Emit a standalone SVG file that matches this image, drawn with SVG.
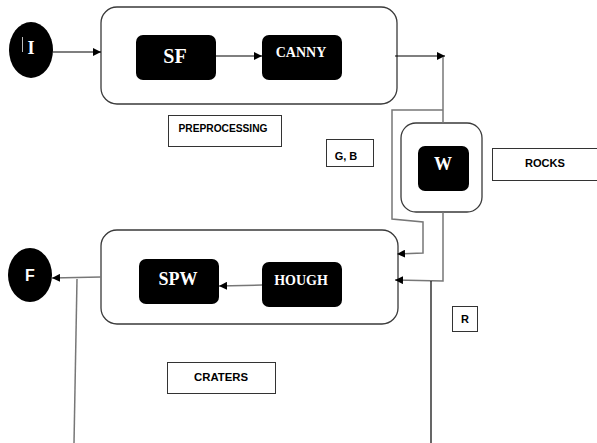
<svg xmlns="http://www.w3.org/2000/svg" width="597" height="443" viewBox="0 0 597 443">
  <defs>
    <marker id="arr" viewBox="0 0 10 10" refX="10" refY="5" markerWidth="8" markerHeight="8" markerUnits="userSpaceOnUse" orient="auto">
      <path d="M0,0 L10,5 L0,10 z" fill="#000"/>
    </marker>
    <style>
      .group { fill: #fff; stroke: #3a3a3a; stroke-width: 1.3; }
      .node { fill: #000; }
      .label { fill: #fff; stroke: #333; stroke-width: 1; }
      .serif { font-family: "Liberation Serif", "Times New Roman", serif; font-weight: bold; fill: #fff; text-anchor: middle; }
      .sans { font-family: "Liberation Sans", Arial, sans-serif; font-weight: bold; fill: #000; text-anchor: middle; font-size: 11px; }
      .wire { fill: none; stroke: #000; stroke-width: 1.2; }
      .wire-g { fill: none; stroke: #777; stroke-width: 1.5; }
    </style>
  </defs>
  <rect width="597" height="443" fill="#fff"/>

  <!-- container boxes -->
  <g id="preprocessing-stage">
    <rect class="group" x="101" y="7" width="296" height="97" rx="16"/>
  </g>
  <g id="craters-stage">
    <rect class="group" x="101" y="230" width="297" height="94" rx="16"/>
  </g>
  <g id="rocks-stage">
    <rect class="group" x="401" y="123" width="81" height="89" rx="15"/>
  </g>

  <!-- connectors -->
  <g id="connectors">
    <line class="wire" x1="53" y1="52" x2="101" y2="52" marker-end="url(#arr)"/>
    <line class="wire" x1="216" y1="56" x2="262" y2="56" marker-end="url(#arr)"/>
    <line class="wire" x1="395" y1="56" x2="445" y2="56" marker-end="url(#arr)"/>
    <line class="wire-g" x1="443" y1="57" x2="443" y2="123"/>
    <polyline class="wire-g" points="443,110 392,110 392,219 423,222 423,253 397,254" marker-end="url(#arr)"/>
    <polyline class="wire-g" points="443,212 443,281 395,280" marker-end="url(#arr)"/>
    <line class="wire" x1="431" y1="281" x2="431" y2="443"/>
    <line class="wire-g" x1="262" y1="285" x2="219" y2="286" marker-end="url(#arr)"/>
    <line class="wire-g" x1="101" y1="277" x2="52" y2="278" marker-end="url(#arr)"/>
    <line class="wire-g" x1="77" y1="279" x2="74" y2="443"/>
  </g>

  <!-- nodes -->
  <g id="node-I">
    <ellipse class="node" cx="31" cy="50" rx="22" ry="28"/>
    <line x1="22.5" y1="37" x2="22.5" y2="52" stroke="#bbb" stroke-width="1"/>
    <text class="serif" x="31" y="54" font-size="18">I</text>
  </g>
  <g id="node-SF">
    <rect class="node" x="136" y="35" width="80" height="45" rx="7"/>
    <text class="serif" x="175" y="63" font-size="20">SF</text>
  </g>
  <g id="node-CANNY">
    <rect class="node" x="262" y="35" width="80" height="45" rx="7"/>
    <text class="serif" x="301" y="57" font-size="14">CANNY</text>
  </g>
  <g id="node-W">
    <rect class="node" x="418" y="146" width="51" height="45" rx="7"/>
    <text class="serif" x="443" y="170" font-size="18">W</text>
  </g>
  <g id="node-SPW">
    <rect class="node" x="139" y="259" width="80" height="45" rx="7"/>
    <text class="serif" x="178" y="285" font-size="18">SPW</text>
  </g>
  <g id="node-HOUGH">
    <rect class="node" x="262" y="262" width="80" height="45" rx="7"/>
    <text class="serif" x="301" y="285" font-size="14">HOUGH</text>
  </g>
  <g id="node-F">
    <ellipse class="node" cx="30" cy="275" rx="22" ry="27"/>
    <text x="30" y="281" font-family="Liberation Sans, Arial, sans-serif" font-weight="bold" font-size="16" fill="#fff" text-anchor="middle">F</text>
  </g>

  <!-- labels -->
  <g id="label-preprocessing">
    <rect class="label" x="168.5" y="115.5" width="113" height="31"/>
    <text class="sans" x="223" y="132" textLength="89" lengthAdjust="spacingAndGlyphs">PREPROCESSING</text>
  </g>
  <g id="label-gb">
    <rect class="label" x="326.5" y="139.5" width="47" height="27"/>
    <text class="sans" x="346" y="160">G, B</text>
  </g>
  <g id="label-rocks">
    <rect class="label" x="492.5" y="148.5" width="110" height="32"/>
    <text class="sans" x="545" y="167" textLength="40" lengthAdjust="spacingAndGlyphs">ROCKS</text>
  </g>
  <g id="label-craters">
    <rect class="label" x="167.5" y="362.5" width="108" height="31"/>
    <text class="sans" x="221" y="381" textLength="54" lengthAdjust="spacingAndGlyphs">CRATERS</text>
  </g>
  <g id="label-r">
    <rect class="label" x="452.5" y="306.5" width="25" height="25"/>
    <text class="sans" x="465" y="323">R</text>
  </g>
</svg>
